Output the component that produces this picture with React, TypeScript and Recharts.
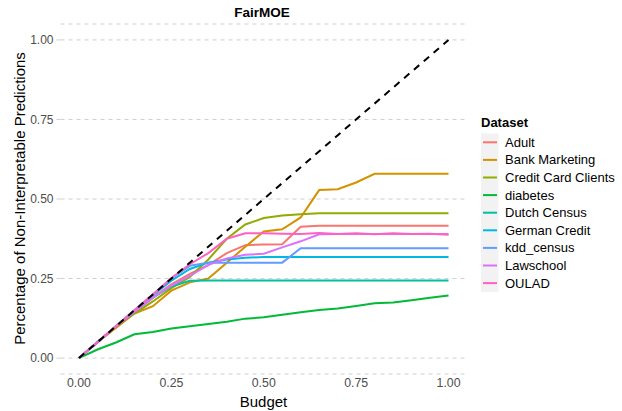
import React from "react";
import { LineChart, Line, XAxis, YAxis, CartesianGrid, ReferenceLine } from "recharts";

const budget = [0, 0.05, 0.1, 0.15, 0.2, 0.25, 0.3, 0.35, 0.4, 0.45, 0.5, 0.55, 0.6, 0.65, 0.7, 0.75, 0.8, 0.85, 0.9, 0.95, 1.0];

const adult = [0, 0.05, 0.1, 0.145, 0.19, 0.232, 0.265, 0.292, 0.33, 0.355, 0.357, 0.358, 0.413, 0.416, 0.416, 0.416, 0.416, 0.416, 0.416, 0.416, 0.416];
const bankMarketing = [0, 0.05, 0.095, 0.14, 0.163, 0.212, 0.238, 0.25, 0.3, 0.35, 0.398, 0.405, 0.442, 0.528, 0.531, 0.552, 0.579, 0.579, 0.579, 0.579, 0.579];
const creditCard = [0, 0.05, 0.1, 0.14, 0.178, 0.22, 0.255, 0.31, 0.375, 0.42, 0.44, 0.448, 0.452, 0.455, 0.455, 0.455, 0.455, 0.455, 0.455, 0.455, 0.455];
const diabetes = [0, 0.027, 0.049, 0.075, 0.082, 0.093, 0.1, 0.107, 0.114, 0.124, 0.128, 0.136, 0.144, 0.151, 0.156, 0.164, 0.172, 0.175, 0.182, 0.19, 0.197];
const dutchCensus = [0, 0.05, 0.1, 0.145, 0.19, 0.225, 0.243, 0.244, 0.244, 0.244, 0.244, 0.244, 0.244, 0.244, 0.244, 0.244, 0.244, 0.244, 0.244, 0.244, 0.244];
const germanCredit = [0, 0.05, 0.1, 0.15, 0.198, 0.243, 0.28, 0.3, 0.31, 0.315, 0.318, 0.318, 0.318, 0.318, 0.318, 0.318, 0.318, 0.318, 0.318, 0.318, 0.318];
const kddCensus = [0, 0.05, 0.1, 0.15, 0.2, 0.25, 0.29, 0.3, 0.3, 0.3, 0.3, 0.3, 0.345, 0.345, 0.345, 0.345, 0.345, 0.345, 0.345, 0.345, 0.345];
const lawschool = [0, 0.05, 0.1, 0.145, 0.19, 0.228, 0.258, 0.293, 0.313, 0.325, 0.328, 0.348, 0.367, 0.389, 0.39, 0.39, 0.39, 0.39, 0.39, 0.39, 0.39];
const oulad = [0, 0.05, 0.1, 0.15, 0.2, 0.252, 0.295, 0.33, 0.375, 0.392, 0.392, 0.391, 0.39, 0.393, 0.39, 0.392, 0.389, 0.392, 0.39, 0.391, 0.388];

const seriesNames = ["Adult", "Bank Marketing", "Credit Card Clients", "diabetes", "Dutch Census", "German Credit", "kdd_census", "Lawschool", "OULAD"];
const seriesValues = [adult, bankMarketing, creditCard, diabetes, dutchCensus, germanCredit, kddCensus, lawschool, oulad];
const seriesColors = ["#F8766D", "#D39200", "#93AA00", "#00BA38", "#00C19F", "#00B9E3", "#619CFF", "#DB72FB", "#FF61C3"];

const xTicks = [0, 0.25, 0.5, 0.75, 1.0];
const yTicks = [0, 0.25, 0.5, 0.75, 1.0];
const diagonal = [{ x: 0, y: 0 }, { x: 1, y: 1 }];

const data = budget.map((b, i) => {
  const row: Record<string, number> = { budget: b };
  seriesNames.forEach((n, k) => {
    row[n] = seriesValues[k][i];
  });
  return row;
});

const FONT = "'Liberation Sans', Arial, Helvetica, sans-serif";

export default function App() {
  return (
    <div style={{ position: "absolute", left: 0, top: 0, width: 622, height: 411, background: "#fff", fontFamily: FONT }}>
      <LineChart width={622} height={411} data={data} margin={{ top: 24, right: 155, left: 0, bottom: 0 }}>
        <CartesianGrid vertical={false} stroke="#cfcfcf" strokeDasharray="4 4" strokeWidth={1} />
        <XAxis
          dataKey="budget"
          type="number"
          domain={[-0.05, 1.05]}
          ticks={xTicks}
          tickFormatter={(v: number) => v.toFixed(2)}
          axisLine={false}
          tickLine={false}
          tickSize={0}
          tickMargin={4}
          height={37}
          tick={{ fill: "#4d4d4d", fontSize: 12.3, fontFamily: FONT }}
        />
        <YAxis
          type="number"
          domain={[-0.05, 1.05]}
          ticks={yTicks}
          tickFormatter={(v: number) => v.toFixed(2)}
          axisLine={false}
          tickLine={{ stroke: "#cfcfcf" }}
          tickSize={4}
          tickMargin={3}
          width={60.5}
          tick={{ fill: "#4d4d4d", fontSize: 12, fontFamily: FONT }}
        />
        {seriesNames.map((n, k) => (
          <Line
            key={n}
            dataKey={n}
            type="linear"
            stroke={seriesColors[k]}
            strokeWidth={2}
            dot={false}
            activeDot={false}
            isAnimationActive={false}
          />
        ))}
        <ReferenceLine segment={diagonal} stroke="#000" strokeWidth={2} strokeDasharray="7 6" ifOverflow="extendDomain" />
      </LineChart>
      <svg width={622} height={411} style={{ position: "absolute", left: 0, top: 0, pointerEvents: "none" }}>
        <text x={262} y={12.5} textAnchor="middle" dominantBaseline="central" fontWeight="bold" fontSize={13.5} fill="#000" fontFamily={FONT}>
          FairMOE
        </text>
        <text x={263.5} y={401} textAnchor="middle" dominantBaseline="central" fontSize={15} fill="#000" fontFamily={FONT}>
          Budget
        </text>
        <text
          x={19}
          y={198.5}
          textAnchor="middle"
          dominantBaseline="central"
          fontSize={15}
          fill="#000"
          fontFamily={FONT}
          transform="rotate(-90 19 198.5)"
        >
          Percentage of Non-Interpretable Predictions
        </text>
        <text x={481} y={122.5} dominantBaseline="central" fontWeight="bold" fontSize={13} fill="#000" fontFamily={FONT}>
          Dataset
        </text>
        <rect x={481} y={133.5} width={17.5} height={158.5} fill="#f2f2f2" />
        {seriesNames.map((n, k) => (
          <g key={n}>
            <line x1={483} x2={497} y1={142.3 + k * 17.6} y2={142.3 + k * 17.6} stroke={seriesColors[k]} strokeWidth={2} />
            <text x={505} y={142.3 + k * 17.6} dominantBaseline="central" fontSize={13} fill="#000" fontFamily={FONT}>
              {n}
            </text>
          </g>
        ))}
      </svg>
    </div>
  );
}
